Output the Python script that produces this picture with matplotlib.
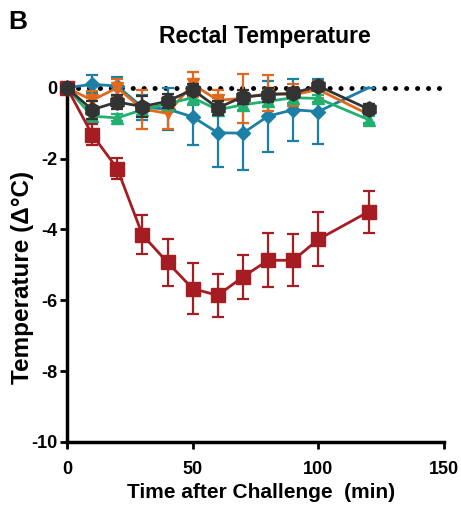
import numpy as np
import matplotlib.pyplot as plt

plt.rcParams['font.family'] = ['Liberation Sans', 'DejaVu Sans']
plt.rcParams['font.weight'] = 'bold'
plt.rcParams['axes.unicode_minus'] = False

time = [0, 10, 20, 30, 40, 50, 60, 70, 80, 90, 100, 120]

# red squares
red_y = [0, -1.32, -2.28, -4.15, -4.93, -5.67, -5.86, -5.34, -4.87, -4.87, -4.28, -3.50]
red_err = [0, 0.3, 0.3, 0.55, 0.66, 0.73, 0.6, 0.62, 0.76, 0.74, 0.76, 0.6]
# blue diamonds
blue_y = [0, 0.1, 0.05, -0.55, -0.6, -0.82, -1.27, -1.28, -0.8, -0.62, -0.67, 0.0]
blue_err = [0, 0.25, 0.25, 0.35, 0.6, 0.8, 0.97, 1.05, 1.0, 0.88, 0.93, 0.0]
# orange inverted triangles
orange_y = [0, -0.35, 0.0, -0.6, -0.72, 0.1, -0.35, -0.3, -0.15, -0.2, -0.05, -0.75]
orange_err = [0, 0.25, 0.25, 0.55, 0.45, 0.35, 0.3, 0.7, 0.5, 0.3, 0.25, 0.3]
# green triangles
green_y = [0, -0.8, -0.85, -0.62, -0.45, -0.28, -0.62, -0.48, -0.38, -0.28, -0.3, -0.9]
green_err = [0, 0.1, 0.1, 0.15, 0.15, 0.2, 0.15, 0.15, 0.12, 0.15, 0.1, 0.1]
# black hexagons
black_y = [0, -0.62, -0.4, -0.53, -0.38, -0.05, -0.57, -0.25, -0.2, -0.15, 0.05, -0.6]
black_err = [0, 0.25, 0.2, 0.3, 0.2, 0.15, 0.2, 0.2, 0.2, 0.15, 0.1, 0.15]

series = [
    (blue_y, blue_err, '#1b7fa6', 'D', 7, list(range(11))),
    (orange_y, orange_err, '#e2691c', 'v', 9, None),
    (green_y, green_err, '#20b070', '^', 9, None),
    (red_y, red_err, '#a51c22', 's', 10, None),
    (black_y, black_err, '#333333', 'h', 11, None),
]

fig = plt.figure(figsize=(4.61, 5.08), dpi=100)
ax = fig.add_axes([0.1453, 0.130, 0.8177, 0.732])

ax.plot([0, 150], [0, 0], color='black', linewidth=3.5,
        linestyle=(0, (0.05, 2.2)), dash_capstyle='round', zorder=1)

for i, (y, e, c, m, ms, every) in enumerate(series):
    ax.errorbar(time, y, yerr=e, color=c, marker=m, markersize=ms,
                markevery=every, linewidth=2, elinewidth=1.6, capsize=4,
                capthick=1.6, zorder=2 + i, clip_on=False)

ax.set_xlim(0, 150)
ax.set_ylim(-10, 0.5)
ax.set_xticks([0, 50, 100, 150])
ax.set_yticks([0, -2, -4, -6, -8, -10])
ax.spines['top'].set_visible(False)
ax.spines['right'].set_visible(False)
ax.spines['left'].set_bounds(-10, 0)
ax.spines['left'].set_linewidth(2.5)
ax.spines['bottom'].set_linewidth(2.5)
ax.tick_params(width=2, length=5, labelsize=13)
ax.tick_params(axis='x', pad=9)
ax.tick_params(axis='y', pad=2)
for lab in ax.get_xticklabels() + ax.get_yticklabels():
    lab.set_fontweight('bold')

fig.text(261 / 461, 1 - 492 / 508, 'Time after Challenge  (min)', fontsize=15,
         fontweight='bold', ha='center', va='center')
fig.text(23 / 461, 1 - 277 / 508, 'Temperature (\u0394\u00b0C)', fontsize=17.5,
         fontweight='bold', ha='center', va='center', rotation=90)

fig.text(265 / 461, 1 - 36 / 508, 'Rectal Temperature', fontsize=16.5,
         fontweight='bold', ha='center', va='center')
fig.text(8 / 461, 1 - 22 / 508, 'B', fontsize=19, fontweight='bold',
         ha='left', va='center')

fig.savefig('out.png', dpi=100)
